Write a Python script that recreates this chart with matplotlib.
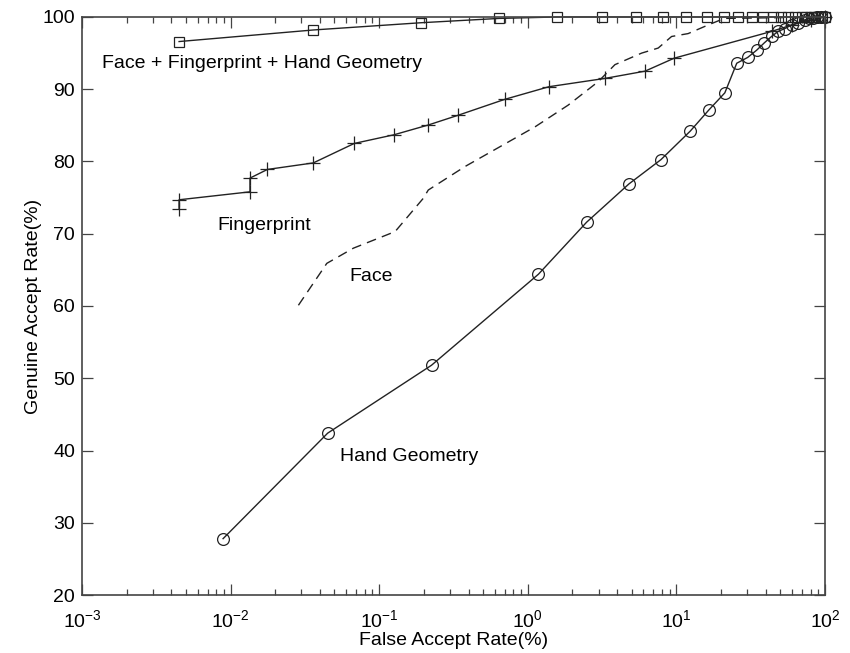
"""
ROC curves for face, fingerprint, hand geometry and their fusion
"""
import matplotlib
matplotlib.use("Agg")
import matplotlib.pyplot as plt
from matplotlib.ticker import LogLocator, NullFormatter, FixedLocator

plt.rcParams['font.family'] = ['Liberation Sans', 'DejaVu Sans']
plt.rcParams['mathtext.fontset'] = 'custom'
plt.rcParams['mathtext.rm'] = 'Liberation Sans'
plt.rcParams['mathtext.it'] = 'Liberation Sans'

# values (FAR in %, GAR in %)
fusion_far = [0.0045, 0.036, 0.19, 0.64, 1.58, 3.14, 5.35, 8.16, 11.7, 16.0, 20.9, 26.1,
              32.1, 38.4, 44.9, 51.0, 56.6, 62.8, 69.6, 75, 80, 85, 90, 95, 100]
fusion_gar = [96.6, 98.2, 99.2, 99.8, 100, 100, 100, 100, 100, 100, 100, 100,
              100, 100, 100, 100, 100, 100, 100, 100, 100, 100, 100, 100, 100]

finger_far = [0.0045, 0.0045, 0.0135, 0.0135, 0.0177, 0.036, 0.068, 0.126, 0.214, 0.34,
              0.70, 1.39, 3.31, 6.15, 9.68, 43.7, 60, 80, 100]
finger_gar = [73.4, 74.7, 75.8, 77.7, 78.9, 79.8, 82.5, 83.7, 85.05, 86.4,
              88.6, 90.35, 91.5, 92.5, 94.3, 98.0, 98.9, 99.6, 100]

face_far = [0.0286, 0.0444, 0.067, 0.128, 0.198, 0.214, 0.378, 1.12, 1.87, 2.98, 3.86,
            5.84, 7.55, 9.29, 12.0, 16.4, 21, 100]
face_gar = [60.1, 65.9, 68.0, 70.3, 74.9, 76.05, 79.3, 84.8, 87.8, 91.05, 93.4,
            95.0, 95.7, 97.3, 97.7, 98.9, 99.8, 100]

hand_far = [0.0089, 0.045, 0.225, 1.18, 2.49, 4.80, 7.87, 12.4, 16.5, 21.2, 25.5, 30.2,
            34.7, 39.0, 43.7, 48.4, 53.8, 59.7, 66.1, 73.3, 78, 83, 88, 94, 100]
hand_gar = [27.8, 42.4, 51.8, 64.4, 71.6, 76.9, 80.25, 84.2, 87.1, 89.5, 93.6, 94.4,
            95.4, 96.4, 97.3, 98.0, 98.4, 98.9, 99.2, 99.6, 99.8, 99.9, 100, 100, 100]

x_ticks = [1e-3, 1e-2, 1e-1, 1e0, 1e1, 1e2]
x_tick_labels = ['$10^{-3}$', '$10^{-2}$', '$10^{-1}$', '$10^{0}$', '$10^{1}$', '$10^{2}$']
y_ticks = [20, 30, 40, 50, 60, 70, 80, 90, 100]

fig = plt.figure(figsize=(8.5, 6.53), dpi=100)
ax = fig.add_axes([0.0965, 0.0888, 0.874, 0.8852])

line_kw = dict(color='#222222', lw=1.0, clip_on=False, markerfacecolor='none',
               markeredgecolor='#222222', markeredgewidth=0.9)
ax.plot(fusion_far, fusion_gar, marker='s', markersize=6.5, **line_kw)
ax.plot(finger_far, finger_gar, marker='+', markersize=10, **line_kw)
ax.plot(face_far, face_gar, linestyle=(0, (7, 4.5)), **line_kw)
ax.plot(hand_far, hand_gar, marker='o', markersize=8.5, **line_kw)

ax.set_xscale('log')
ax.set_xlim(1e-3, 1e2)
ax.set_ylim(20, 100)
ax.xaxis.set_major_locator(FixedLocator(x_ticks))
ax.set_xticklabels(x_tick_labels)
ax.xaxis.set_minor_locator(LogLocator(base=10, subs=range(2, 10), numticks=20))
ax.xaxis.set_minor_formatter(NullFormatter())
ax.set_yticks(y_ticks)

ax.tick_params(which='both', direction='in', top=True, right=True, labelsize=14,
               color='#444444', width=0.9)
ax.tick_params(which='major', length=8)
ax.tick_params(axis='x', which='major', pad=10)
ax.tick_params(axis='y', which='major', pad=5)
ax.tick_params(which='minor', length=4)
for s in ax.spines.values():
    s.set_color('#444444')
    s.set_linewidth(1.2)

ax.set_xlabel('False Accept Rate(%)', fontsize=14, labelpad=1)
ax.set_ylabel('Genuine Accept Rate(%)', fontsize=14, labelpad=0)

ax.text(0.00136, 93.5, 'Face + Fingerprint + Hand Geometry', fontsize=14, va='center')
ax.text(0.0081, 71.2, 'Fingerprint', fontsize=14, va='center')
ax.text(0.0626, 64.15, 'Face', fontsize=14, va='center')
ax.text(0.0545, 39.2, 'Hand Geometry', fontsize=14, va='center')

fig.savefig('out.png', dpi=100)
